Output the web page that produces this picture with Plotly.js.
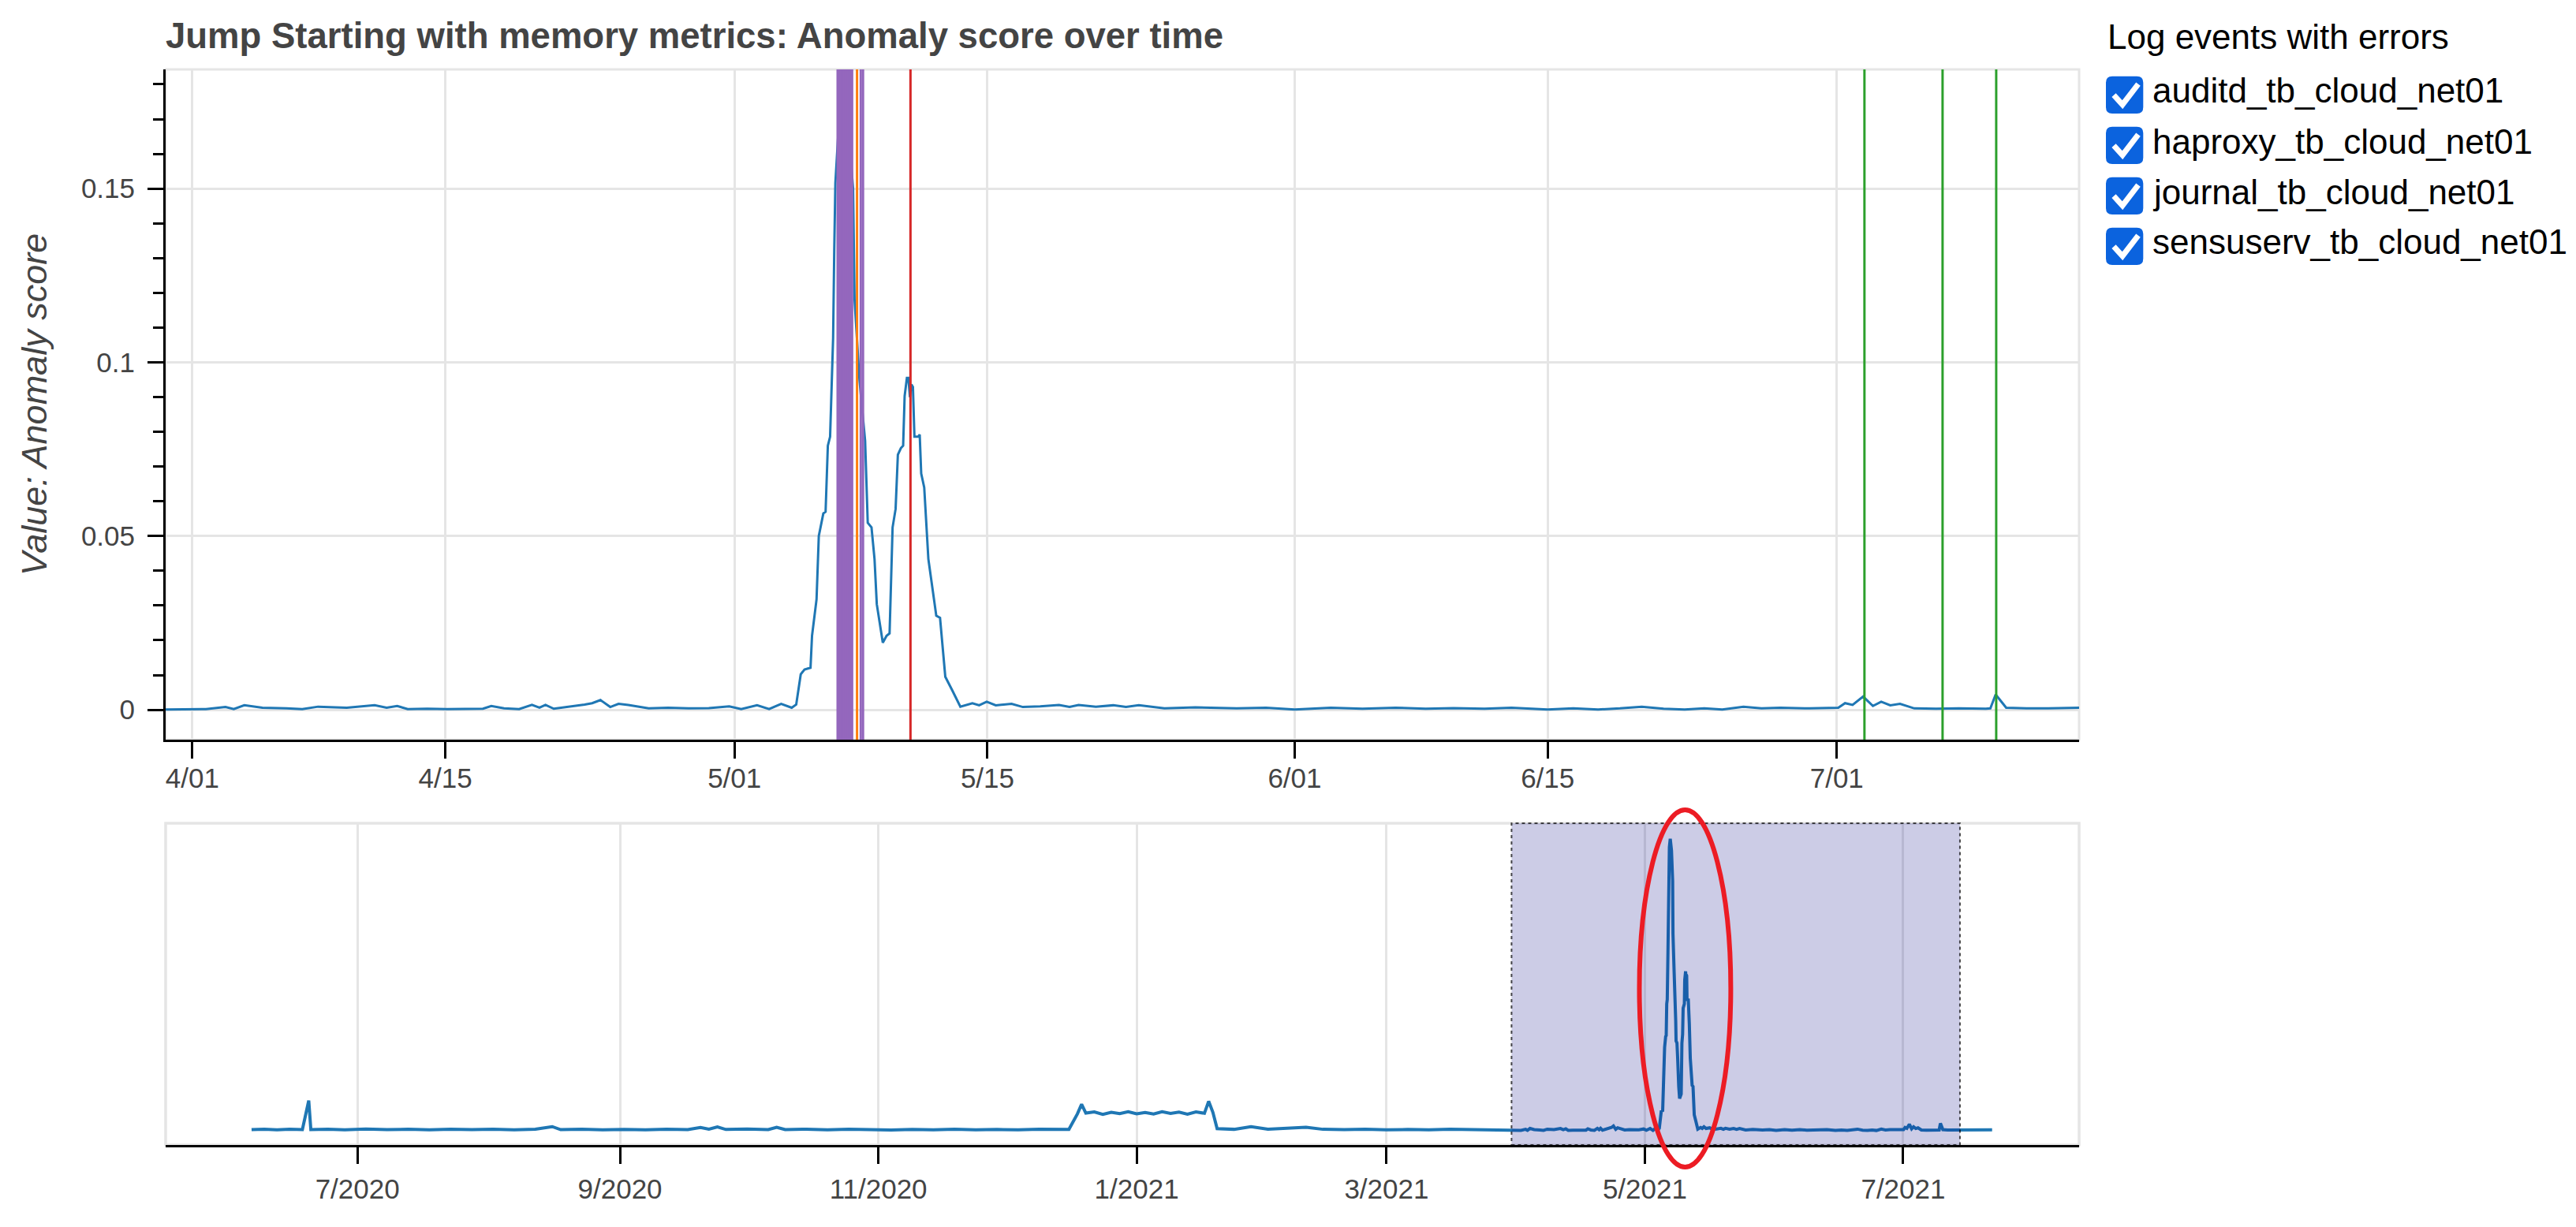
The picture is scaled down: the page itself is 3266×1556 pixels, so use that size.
<!DOCTYPE html>
<html>
<head>
<meta charset="utf-8">
<script src="https://cdn.plot.ly/plotly-3.0.1.min.js"></script>
<style>
  html, body { margin: 0; padding: 0; background: #fff; }
  #chart { width: 3266px; height: 1556px; }
</style>
</head>
<body>
<div id="chart"></div>
<script>
// anomaly score, long history (only seen in the overview)
const overviewDates = [
  '2020-06-06', '2020-06-09', '2020-06-12', '2020-06-15', '2020-06-18', '2020-06-19 12:00', '2020-06-20',
  '2020-06-24', '2020-06-28', '2020-07-03', '2020-07-08', '2020-07-13', '2020-07-18', '2020-07-23',
  '2020-07-28', '2020-08-02', '2020-08-07', '2020-08-12', '2020-08-16', '2020-08-18', '2020-08-23',
  '2020-08-28', '2020-09-02', '2020-09-07', '2020-09-12', '2020-09-17', '2020-09-20', '2020-09-22',
  '2020-09-24', '2020-09-26', '2020-10-01', '2020-10-06', '2020-10-08', '2020-10-10', '2020-10-15',
  '2020-10-20', '2020-10-25', '2020-10-30', '2020-11-04', '2020-11-09', '2020-11-14', '2020-11-19',
  '2020-11-24', '2020-11-29', '2020-12-04', '2020-12-09', '2020-12-14', '2020-12-16', '2020-12-18',
  '2020-12-19', '2020-12-20', '2020-12-22', '2020-12-24', '2020-12-26', '2020-12-28', '2020-12-30',
  '2021-01-01', '2021-01-03', '2021-01-05', '2021-01-07', '2021-01-09', '2021-01-11', '2021-01-13',
  '2021-01-15', '2021-01-17', '2021-01-18', '2021-01-19', '2021-01-20', '2021-01-24', '2021-01-28',
  '2021-02-01', '2021-02-05', '2021-02-10', '2021-02-14', '2021-02-19', '2021-02-24', '2021-03-01',
  '2021-03-06', '2021-03-11', '2021-03-16', '2021-03-21', '2021-03-26'
];
const overviewScores = [
  0.0006, 0.0009, 0.0005, 0.0008, 0.0006, 0.0180, 0.0006,
  0.0009, 0.0005, 0.0010, 0.0006, 0.0008, 0.0005, 0.0009,
  0.0006, 0.0008, 0.0005, 0.0009, 0.0024, 0.0006, 0.0008,
  0.0005, 0.0007, 0.0005, 0.0009, 0.0006, 0.0019, 0.0009,
  0.0022, 0.0007, 0.0010, 0.0006, 0.0020, 0.0006, 0.0009,
  0.0005, 0.0008, 0.0005, 0.0004, 0.0007, 0.0005, 0.0008,
  0.0005, 0.0007, 0.0005, 0.0008, 0.0006, 0.0007, 0.0100,
  0.0158, 0.0105, 0.0112, 0.0098, 0.0110, 0.0102, 0.0114,
  0.0101, 0.0109, 0.0100, 0.0113, 0.0103, 0.0111, 0.0099,
  0.0112, 0.0104, 0.0176, 0.0110, 0.0012, 0.0008, 0.0024,
  0.0009, 0.0012, 0.0020, 0.0008, 0.0006, 0.0009, 0.0005,
  0.0007, 0.0005, 0.0008, 0.0005, 0.0006
];

// anomaly score, spring/summer 2021 (zoomed window)
const detailDates = [
  '2021-03-28 00:00', '2021-03-30 12:00', '2021-03-31 15:00', '2021-04-01 18:00', '2021-04-02 20:00',
  '2021-04-03 07:00', '2021-04-03 21:00', '2021-04-04 21:00', '2021-04-06 05:00', '2021-04-07 02:00',
  '2021-04-07 23:00', '2021-04-09 13:00', '2021-04-11 02:00', '2021-04-11 18:00', '2021-04-12 08:00',
  '2021-04-12 22:00', '2021-04-14 00:00', '2021-04-15 02:00', '2021-04-17 02:00', '2021-04-17 13:00',
  '2021-04-18 06:00', '2021-04-19 02:00', '2021-04-19 19:00', '2021-04-20 05:00', '2021-04-20 13:00',
  '2021-04-21 00:00', '2021-04-22 17:00', '2021-04-23 03:00', '2021-04-23 14:00', '2021-04-24 03:00',
  '2021-04-24 14:00', '2021-04-25 03:00', '2021-04-26 06:00', '2021-04-27 08:00', '2021-04-28 11:00',
  '2021-04-29 14:00', '2021-04-30 17:00', '2021-05-01 09:00', '2021-05-02 06:00', '2021-05-02 22:00',
  '2021-05-03 14:00', '2021-05-04 04:00', '2021-05-04 10:00', '2021-05-04 16:00', '2021-05-04 21:00',
  '2021-05-05 05:00', '2021-05-05 07:00', '2021-05-05 13:00', '2021-05-05 16:00', '2021-05-05 22:00',
  '2021-05-06 01:00', '2021-05-06 04:00', '2021-05-06 07:00', '2021-05-06 11:00', '2021-05-06 12:30',
  '2021-05-06 14:00', '2021-05-06 19:00', '2021-05-07 00:00', '2021-05-07 07:00', '2021-05-07 13:30',
  '2021-05-07 15:30', '2021-05-07 22:00', '2021-05-08 05:30', '2021-05-08 07:00', '2021-05-08 09:00',
  '2021-05-08 14:00', '2021-05-08 18:00', '2021-05-08 21:00', '2021-05-09 00:00', '2021-05-09 05:00',
  '2021-05-09 10:00', '2021-05-09 14:00', '2021-05-09 18:00', '2021-05-09 22:00', '2021-05-10 01:00',
  '2021-05-10 05:00', '2021-05-10 08:00', '2021-05-10 10:00', '2021-05-10 13:00', '2021-05-10 15:00',
  '2021-05-10 17:00', '2021-05-10 19:00', '2021-05-10 21:00', '2021-05-10 23:00', '2021-05-11 04:00',
  '2021-05-11 06:00', '2021-05-11 08:00', '2021-05-11 12:00', '2021-05-11 17:30', '2021-05-11 23:00',
  '2021-05-12 04:00', '2021-05-12 09:00', '2021-05-12 16:00', '2021-05-13 01:00', '2021-05-13 12:00',
  '2021-05-14 04:00', '2021-05-14 13:00', '2021-05-14 23:00', '2021-05-15 11:00', '2021-05-16 08:00',
  '2021-05-16 23:00', '2021-05-17 22:00', '2021-05-18 23:00', '2021-05-19 13:00', '2021-05-20 01:00',
  '2021-05-21 00:00', '2021-05-21 23:00', '2021-05-22 16:00', '2021-05-23 09:00', '2021-05-24 19:00',
  '2021-05-26 12:00', '2021-05-28 19:00', '2021-05-30 10:00', '2021-06-01 00:00', '2021-06-03 00:00',
  '2021-06-04 18:00', '2021-06-06 14:00', '2021-06-08 06:00', '2021-06-09 19:00', '2021-06-11 12:00',
  '2021-06-13 00:00', '2021-06-15 00:00', '2021-06-16 10:00', '2021-06-17 19:00', '2021-06-19 00:00',
  '2021-06-20 05:00', '2021-06-21 10:00', '2021-06-22 14:00', '2021-06-23 16:00', '2021-06-24 16:00',
  '2021-06-25 20:00', '2021-06-26 20:00', '2021-06-27 21:00', '2021-06-29 12:00', '2021-07-01 02:00',
  '2021-07-01 11:00', '2021-07-01 21:00', '2021-07-02 11:00', '2021-07-03 00:00', '2021-07-03 11:00',
  '2021-07-03 23:00', '2021-07-04 12:00', '2021-07-05 07:00', '2021-07-06 12:00', '2021-07-07 18:00',
  '2021-07-09 06:00', '2021-07-09 12:00', '2021-07-09 19:00', '2021-07-10 09:00', '2021-07-11 12:00',
  '2021-07-12 17:00', '2021-07-14 14:00', '2021-07-16 12:00', '2021-07-18 12:00', '2021-07-20 12:00',
  '2021-07-22 00:00'
];
const detailScores = [
  0.0005, 0.0001, 0.0002, 0.0002, 0.0008,
  0.0002, 0.0013, 0.0006, 0.0004, 0.0002,
  0.0009, 0.0006, 0.0013, 0.0006, 0.0011,
  0.0002, 0.0003, 0.0002, 0.0003, 0.0011,
  0.0004, 0.0002, 0.0014, 0.0006, 0.0014,
  0.0003, 0.0015, 0.0019, 0.0028, 0.0008,
  0.0017, 0.0014, 0.0004, 0.0006, 0.0004,
  0.0005, 0.0010, 0.0002, 0.0013, 0.0002,
  0.0017, 0.0006, 0.0015, 0.0102, 0.0116,
  0.0121, 0.0213, 0.0318, 0.0500, 0.0565,
  0.0570, 0.0760, 0.0786, 0.1070, 0.1320,
  0.1516, 0.1700, 0.1750, 0.1680, 0.1500,
  0.1180, 0.0950, 0.0774, 0.0656, 0.0538,
  0.0525, 0.0434, 0.0304, 0.0265, 0.0193,
  0.0213, 0.0220, 0.0525, 0.0578, 0.0734,
  0.0753, 0.0760, 0.0903, 0.0955, 0.0955,
  0.0900, 0.0936, 0.0929, 0.0786, 0.0786,
  0.0792, 0.0680, 0.0640, 0.0434, 0.0343,
  0.0271, 0.0265, 0.0095, 0.0057, 0.0009,
  0.0019, 0.0013, 0.0023, 0.0013, 0.0017,
  0.0008, 0.0010, 0.0014, 0.0008, 0.0014,
  0.0009, 0.0013, 0.0008, 0.0013, 0.0004,
  0.0007, 0.0004, 0.0006, 0.0001, 0.0006,
  0.0003, 0.0006, 0.0003, 0.0005, 0.0003,
  0.0006, 0.0001, 0.0004, 0.0001, 0.0004,
  0.0009, 0.0003, 0.0001, 0.0004, 0.0001,
  0.0009, 0.0004, 0.0006, 0.0004, 0.0006,
  0.0019, 0.0014, 0.0038, 0.0011, 0.0023,
  0.0013, 0.0017, 0.0004, 0.0003, 0.0004,
  0.0003, 0.0004, 0.0044, 0.0006, 0.0004,
  0.0004, 0.0006, 0.0004, 0.0006, 0.0004,
  0.0005
];

// log events with errors, one list per source
const eventSources = ['auditd_tb_cloud_net01', 'haproxy_tb_cloud_net01', 'journal_tb_cloud_net01', 'sensuserv_tb_cloud_net01'];
const eventColors = ['#ff7f0e', '#2ca02c', '#d62728', '#9467bd'];
const auditdEvents = ['2021-05-07 18:45'];
const haproxyEvents = ['2021-07-02 12:45', '2021-07-06 20:30', '2021-07-09 19:45'];
const journalEvents = ['2021-05-10 17:45'];
const sensuservEvents = [
  '2021-05-06 17:00', '2021-05-06 19:00', '2021-05-06 21:00', '2021-05-06 23:00', '2021-05-07 01:00',
  '2021-05-07 03:00', '2021-05-07 05:00', '2021-05-07 07:00', '2021-05-07 09:00', '2021-05-07 11:00',
  '2021-05-07 12:15', '2021-05-07 23:45', '2021-05-08 02:45'
];

// windows and ticks
const detailRange = ['2021-03-30 12:30', '2021-07-14 09:50'];
const overviewRange = ['2020-05-16 17:00', '2021-08-11 13:00'];
const scoreRange = [-0.0086, 0.1843];
const detailTicks = ['2021-04-01', '2021-04-15', '2021-05-01', '2021-05-15', '2021-06-01', '2021-06-15', '2021-07-01'];
const detailTickText = ['4/01', '4/15', '5/01', '5/15', '6/01', '6/15', '7/01'];
const overviewTicks = ['2020-07-01', '2020-09-01', '2020-11-01', '2021-01-01', '2021-03-01', '2021-05-01', '2021-07-01'];
const overviewTickText = ['7/2020', '9/2020', '11/2020', '1/2021', '3/2021', '5/2021', '7/2021'];
const scoreTicks = [0, 0.05, 0.1, 0.15];
const scoreTickText = ['0', '0.05', '0.1', '0.15'];
// highlighted burst in the overview
const burstRange = ['2021-04-29 17:00', '2021-05-21 07:00'];

const W = 3266, H = 1556;
const M = { l: 210, r: 630, t: 88, b: 104 };
const pw = W - M.l - M.r, ph = H - M.t - M.b;
const px = x => (x - M.l) / pw;
const py = y => (H - M.b - y) / ph;

const FONT = 'Liberation Sans, Arial, Helvetica, sans-serif';
const allDates = overviewDates.concat(detailDates);
const allScores = overviewScores.concat(detailScores);

const traces = [
  { x: allDates, y: allScores, xaxis: 'x', yaxis: 'y', type: 'scatter', mode: 'lines',
    line: { color: '#1f77b4', width: 3 }, hoverinfo: 'skip' },
  { x: allDates, y: allScores, xaxis: 'x2', yaxis: 'y2', type: 'scatter', mode: 'lines',
    line: { color: '#1f77b4', width: 4 }, hoverinfo: 'skip' }
];

const shapes = [];
// plot outlines
shapes.push({ type: 'rect', xref: 'x domain', yref: 'y domain', x0: 0, x1: 1, y0: 0, y1: 1,
  line: { color: '#e5e5e5', width: 3 }, layer: 'below' });
shapes.push({ type: 'rect', xref: 'x2 domain', yref: 'y2 domain', x0: 0, x1: 1, y0: 0, y1: 1,
  line: { color: '#e5e5e5', width: 3.5 }, layer: 'below' });

// event lines
const eventLists = [auditdEvents, haproxyEvents, journalEvents, sensuservEvents];
eventLists.forEach((list, i) => {
  list.forEach(t => {
    shapes.push({ type: 'line', xref: 'x', yref: 'y domain', x0: t, x1: t, y0: 0, y1: 1,
      line: { color: eventColors[i], width: 3 } });
  });
});

// range tool box
shapes.push({ type: 'rect', xref: 'x2', yref: 'y2 domain', x0: detailRange[0], x1: detailRange[1], y0: 0, y1: 1,
  fillcolor: 'rgba(0,0,128,0.2)', line: { color: 'rgba(0,0,0,0.7)', width: 2, dash: '4px,4px' }, layer: 'above' });

// red ellipse round the burst
shapes.push({ type: 'circle', xref: 'x2', yref: 'paper', x0: burstRange[0], x1: burstRange[1],
  y0: py(1480), y1: py(1027), line: { color: '#ec1c24', width: 6 }, layer: 'above' });

// checkbox widget
const annotations = [];
annotations.push({ text: 'Log events with errors', xref: 'paper', yref: 'paper', x: px(2670), y: py(46),
  xanchor: 'left', yanchor: 'middle', showarrow: false, font: { family: FONT, size: 44, color: '#000' } });

eventSources.forEach((name, i) => {
  const top = 96.7 + i * 64, left = 2670, s = 47.3, r = 8;
  const P = (x, y) => px(x) + ',' + py(y);
  const box = 'M' + P(left + r, top) + ' L' + P(left + s - r, top) + ' Q' + P(left + s, top) + ' ' + P(left + s, top + r) +
    ' L' + P(left + s, top + s - r) + ' Q' + P(left + s, top + s) + ' ' + P(left + s - r, top + s) +
    ' L' + P(left + r, top + s) + ' Q' + P(left, top + s) + ' ' + P(left, top + s - r) +
    ' L' + P(left, top + r) + ' Q' + P(left, top) + ' ' + P(left + r, top) + ' Z';
  shapes.push({ type: 'path', xref: 'paper', yref: 'paper', path: box, fillcolor: '#0b63de',
    line: { width: 0 }, layer: 'above' });
  const tick = 'M' + P(left + 10, top + 24) + ' L' + P(left + 21, top + 36) + ' L' + P(left + 41, top + 10);
  shapes.push({ type: 'path', xref: 'paper', yref: 'paper', path: tick, fillcolor: 'rgba(0,0,0,0)',
    line: { color: '#fff', width: 7 }, layer: 'above' });
  annotations.push({ text: name, xref: 'paper', yref: 'paper', x: px(2727), y: py(115 + i * 64),
    xanchor: 'left', yanchor: 'middle', showarrow: false, font: { family: FONT, size: 44, color: '#000' } });
});

const axisCommon = {
  ticks: 'outside', tickcolor: '#000', tickwidth: 3, showline: true, linecolor: '#000', linewidth: 3,
  gridcolor: '#e5e5e5', gridwidth: 3, zeroline: false, tickfont: { family: FONT, size: 35, color: '#444' }
};

const layout = {
  width: W, height: H, margin: M,
  paper_bgcolor: '#fff', plot_bgcolor: '#fff', showlegend: false,
  font: { family: FONT, color: '#444' },
  title: { text: '<b>Jump Starting with memory metrics: Anomaly score over time</b>',
    font: { family: FONT, size: 45.5, color: '#444' },
    xref: 'paper', x: 0, xanchor: 'left', yref: 'container', y: 1 - 45 / H, yanchor: 'middle' },
  xaxis: Object.assign({}, axisCommon, {
    domain: [0, 1], anchor: 'y', type: 'date', range: detailRange,
    tickmode: 'array', tickvals: detailTicks, ticktext: detailTickText, ticklen: 21, showgrid: true,
    ticklabelstandoff: -5
  }),
  yaxis: Object.assign({}, axisCommon, {
    domain: [py(938), 1], anchor: 'x', range: scoreRange,
    tickmode: 'array', tickvals: scoreTicks, ticktext: scoreTickText, ticklen: 20, showgrid: true,
    ticklabelstandoff: 9,
    minor: { tick0: 0, dtick: 0.01, ticks: 'outside', ticklen: 13, tickwidth: 3, tickcolor: '#000', showgrid: false },
    title: { text: 'Value: Anomaly score', font: { family: FONT, size: 45, color: '#444', style: 'italic' }, standoff: 30 }
  }),
  xaxis2: Object.assign({}, axisCommon, {
    domain: [0, 1], anchor: 'y2', type: 'date', range: overviewRange,
    tickmode: 'array', tickvals: overviewTicks, ticktext: overviewTickText, ticklen: 21, showgrid: true,
    ticklabelstandoff: 2
  }),
  yaxis2: { domain: [0, py(1044)], anchor: 'x2', range: scoreRange, visible: false },
  shapes: shapes,
  annotations: annotations
};

Plotly.newPlot('chart', traces, layout, { displayModeBar: false, staticPlot: true });
</script>
</body>
</html>
